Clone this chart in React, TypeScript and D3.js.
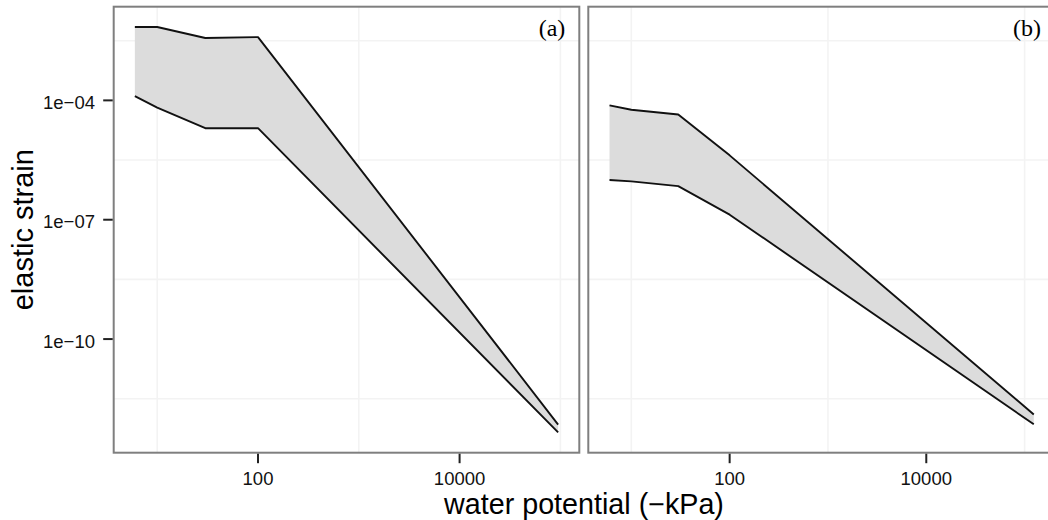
import React from "react";
import * as d3 from "d3";

// ---- data ----
const panelNames = ["(a)", "(b)"];

const waterPotentialA = [6, 10, 30, 100, 95000];
const strainUpperA = [7.0e-3, 7.0e-3, 3.7e-3, 3.9e-3, 7.1e-13];
const strainLowerA = [1.28e-4, 6.6e-5, 2.0e-5, 2.0e-5, 4.5e-13];

const waterPotentialB = [6, 10, 30, 100, 124000];
const strainUpperB = [7.5e-5, 5.8e-5, 4.4e-5, 4.15e-6, 1.27e-12];
const strainLowerB = [1.0e-6, 9.2e-7, 7.0e-7, 1.34e-7, 7.2e-13];

const xTickValues = [100, 10000];
const xTickLabels = ["100", "10000"];
const xMinorValues = [10, 1000, 100000];

const yTickValues = [1e-4, 1e-7, 1e-10];
const yTickLabels = ["1e\u221204", "1e\u221207", "1e\u221210"];
const yMinorValues = [Math.pow(10, -2.5), Math.pow(10, -5.5), Math.pow(10, -8.5), Math.pow(10, -11.5)];

const xTitle = "water potential (\u2212kPa)";
const yTitle = "elastic strain";

// ---- layout ----
const W = 1048;
const H = 520;
const panelTop = 6.7;
const panelBottom = 452.7;
const panelBoxes = [
  { left: 113.7, right: 579.3 },
  { left: 588.3, right: 1055 },
];
const sans = "'Liberation Sans', Arial, Helvetica, sans-serif";
const serif = "'Liberation Serif', 'Times New Roman', serif";

function expandedLogDomain(vals: number[]): [number, number] {
  const l = vals.map((v) => Math.log10(v));
  const mn = d3.min(l) as number;
  const mx = d3.max(l) as number;
  const e = (mx - mn) * 0.05;
  return [Math.pow(10, mn - e), Math.pow(10, mx + e)];
}

export default function App() {
  const panels = [
    { x: waterPotentialA, up: strainUpperA, lo: strainLowerA },
    { x: waterPotentialB, up: strainUpperB, lo: strainLowerB },
  ];
  const allY = [...strainUpperA, ...strainLowerA, ...strainUpperB, ...strainLowerB];
  const y = d3.scaleLog().domain(expandedLogDomain(allY)).range([panelBottom, panelTop]);

  const panelEls = panels.map((p, i) => {
    const box = panelBoxes[i];
    const x = d3.scaleLog().domain(expandedLogDomain(p.x)).range([box.left, box.right]);
    const pts = p.x.map((xv, j) => ({ x: xv, up: p.up[j], lo: p.lo[j] }));
    const area = d3
      .area<any>()
      .x((d) => x(d.x))
      .y0((d) => y(d.lo))
      .y1((d) => y(d.up));
    const lineUp = d3.line<any>().x((d) => x(d.x)).y((d) => y(d.up));
    const lineLo = d3.line<any>().x((d) => x(d.x)).y((d) => y(d.lo));
    return (
      <g key={i}>
        <rect x={box.left} y={panelTop} width={box.right - box.left} height={panelBottom - panelTop} fill="#ffffff" />
        {xMinorValues.map((v, k) => (
          <line key={"xm" + k} x1={x(v)} x2={x(v)} y1={panelTop} y2={panelBottom} stroke="#f3f3f3" strokeWidth={1.6} />
        ))}
        {yMinorValues.map((v, k) => (
          <line key={"ym" + k} x1={box.left} x2={box.right} y1={y(v)} y2={y(v)} stroke="#f3f3f3" strokeWidth={1.6} />
        ))}
        <path d={area(pts) as string} fill="#dcdcdc" stroke="none" />
        <path d={lineUp(pts) as string} fill="none" stroke="#111" strokeWidth={1.9} strokeLinejoin="round" />
        <path d={lineLo(pts) as string} fill="none" stroke="#111" strokeWidth={1.9} strokeLinejoin="round" />
        <rect
          x={box.left}
          y={panelTop}
          width={box.right - box.left}
          height={panelBottom - panelTop}
          fill="none"
          stroke="#7f7f7f"
          strokeWidth={2}
        />
        {xTickValues.map((v, k) => (
          <g key={"xt" + k}>
            <line x1={x(v)} x2={x(v)} y1={panelBottom + 1} y2={panelBottom + 10.5} stroke="#222" strokeWidth={2} />
            <text x={x(v)} y={485} textAnchor="middle" fontFamily={sans} fontSize={18.5} fill="#111">
              {xTickLabels[k]}
            </text>
          </g>
        ))}
        <text x={box.right - 14} y={36} textAnchor="end" fontFamily={serif} fontSize={24} fill="#000">
          {panelNames[i]}
        </text>
      </g>
    );
  });

  const leftBox = panelBoxes[0];
  return (
    <svg
      width={W}
      height={H}
      style={{ position: "absolute", left: 0, top: 0, display: "block", background: "#fff", overflow: "hidden" }}
    >
      <rect x={0} y={0} width={W} height={H} fill="#fff" />
      {panelEls}
      {yTickValues.map((v, k) => (
        <g key={"yt" + k}>
          <line x1={leftBox.left - 10.5} x2={leftBox.left - 1} y1={y(v)} y2={y(v)} stroke="#222" strokeWidth={2} />
          <text x={95} y={y(v) + 8.5} textAnchor="end" fontFamily={sans} fontSize={18.5} fill="#111">
            {yTickLabels[k]}
          </text>
        </g>
      ))}
      <text x={584} y={514} textAnchor="middle" fontFamily={sans} fontSize={28.7} fill="#000">
        {xTitle}
      </text>
      <text
        transform={`translate(33, ${(panelTop + panelBottom) / 2}) rotate(-90)`}
        textAnchor="middle"
        fontFamily={sans}
        fontSize={29}
        fill="#000"
      >
        {yTitle}
      </text>
    </svg>
  );
}
